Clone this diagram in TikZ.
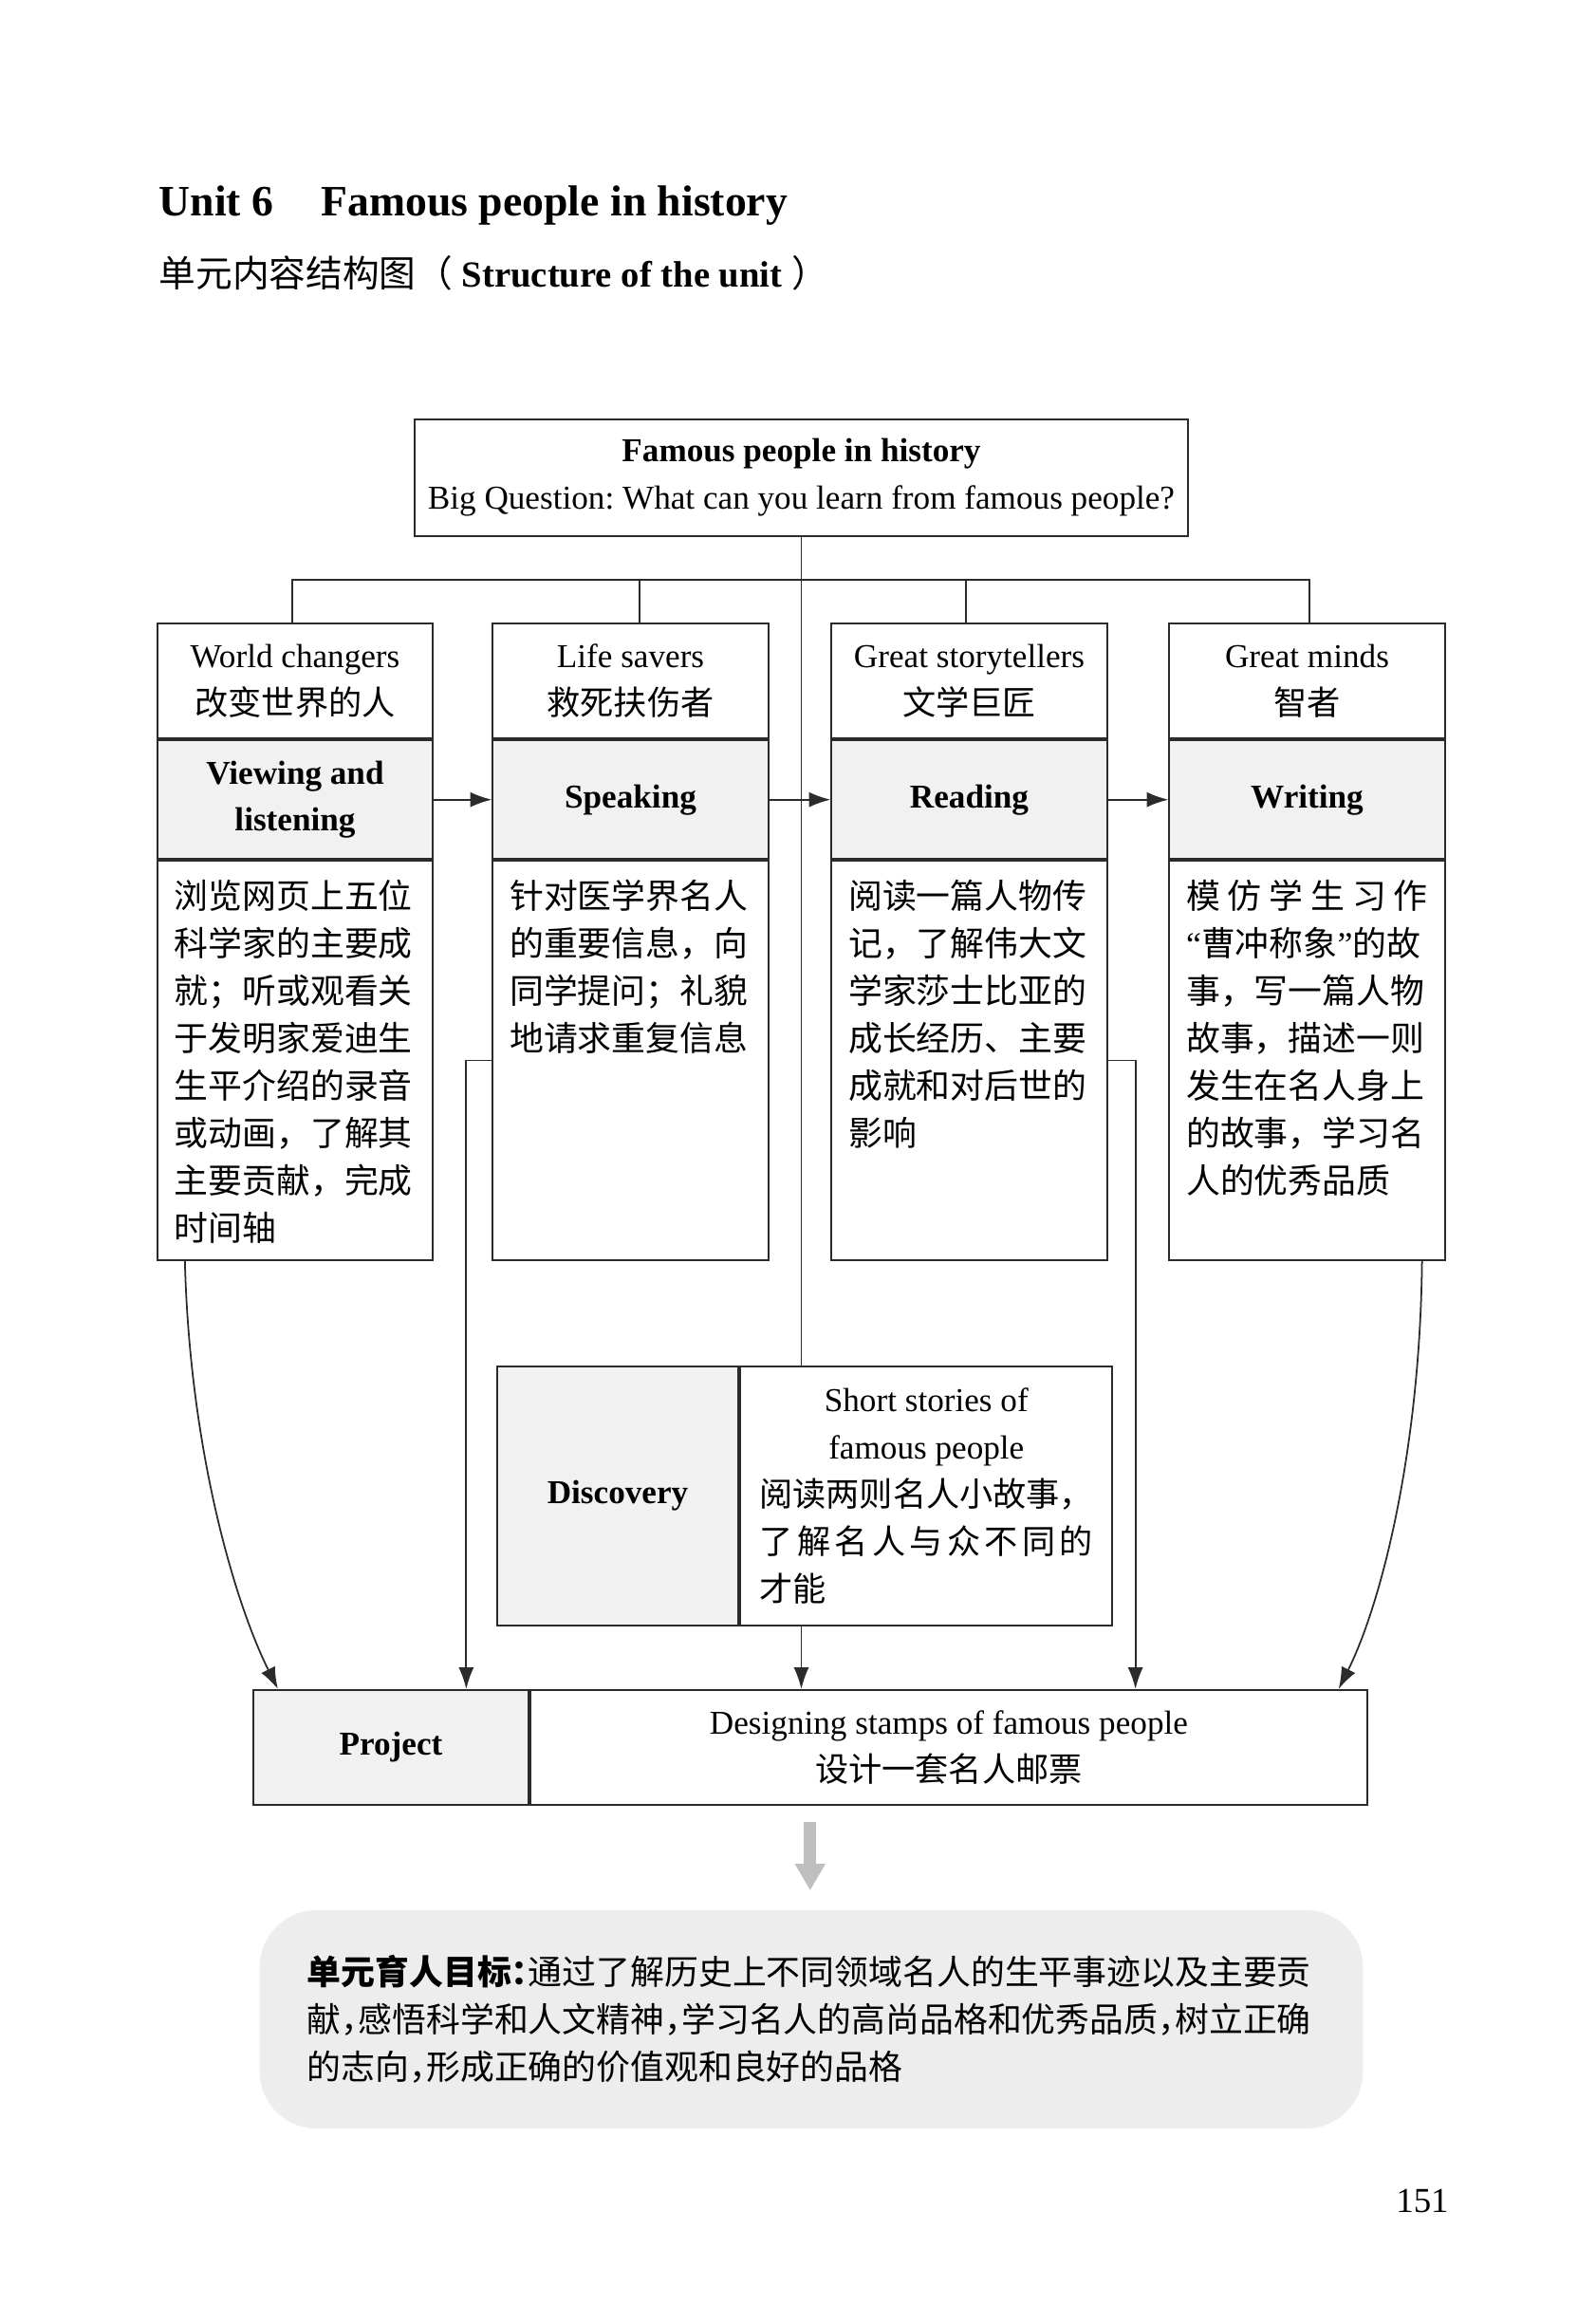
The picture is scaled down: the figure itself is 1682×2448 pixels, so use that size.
\documentclass[tikz,border=0pt]{standalone}
\usepackage{fontspec}
\setmainfont{Liberation Serif}
\newfontfamily\cjk{Noto Sans CJK SC}
\newfontfamily\cjkhalf[RawFeature=+halt]{Noto Sans CJK SC}
\usetikzlibrary{arrows.meta,positioning,calc}
\definecolor{CellGray}{HTML}{F1F1F1}
\definecolor{GoalGray}{HTML}{EDEDED}
\definecolor{InkGray}{HTML}{2B2B2B}
\frenchspacing
\newcommand{\zh}[1]{{\cjk #1}}
\newcommand{\enquote}[1]{{\rmfamily “}#1{\rmfamily ”}}
\newcommand{\colbody}[1]{\parbox[c][3.8cm][t]{7.1em}{\cjk #1}}
\tikzset{
  >={Latex[length=6.5pt,width=4.6pt]},
  cell/.style={rectangle, draw=InkGray, line width=0.6pt,
    minimum width=2.9cm, inner sep=0pt, align=center,
    font=\fontsize{10}{14.2}\selectfont},
  head/.style={cell, minimum height=1.21cm},
  skill/.style={cell, fill=CellGray, minimum height=1.25cm,
    font=\fontsize{10}{14.2}\selectfont\bfseries},
  body/.style={cell, minimum height=4.2cm,
    font=\fontsize{10.2}{14.2}\selectfont},
  link/.style={draw=InkGray, line width=0.5pt},
  flow/.style={link, ->},
  bigflow/.style={draw=black!25, line width=0.13cm,
    -{Triangle[length=0.28cm,width=0.3cm]}}
}

\begin{document}
\begin{tikzpicture}[x=0.01cm, y=-0.01cm, node distance=0pt]

\path[fill=white, use as bounding box] (0,0) rectangle (1682,2448);

\node[anchor=base west, inner sep=0pt, font=\fontsize{13}{15}\selectfont\bfseries]
  (title) at (167,227) {Unit 6\hspace{1.1em}Famous people in history};
\node[anchor=base west, inner sep=0pt, font=\fontsize{11}{13}\selectfont]
  (subtitle) at (167,302) {\zh{单元内容结构图（}\textbf{ Structure of the unit }\zh{）}};

\node[cell, minimum width=8.15cm, minimum height=1.23cm] (theme) at (844.5,503.5) {
\textbf{Famous people in history}\\
Big Question: What can you learn from famous people?
};

% four strands
\node[head] (wcHead) at (311,717.5) {World changers\\\zh{改变世界的人}};
\node[skill, below=of wcHead] (wcSkill) {Viewing and\\listening};
\node[body, below=of wcSkill] (wcBody) {\colbody{
浏览网页上五位\\科学家的主要成\\就；听或观看关\\于发明家爱迪生\\生平介绍的录音\\或动画，了解其\\主要贡献，完成\\时间轴}};

\node[head] (lsHead) at (664.5,717.5) {Life savers\\\zh{救死扶伤者}};
\node[skill, below=of lsHead] (lsSkill) {Speaking};
\node[body, below=of lsSkill] (lsBody) {\colbody{
针对医学界名人\\的重要信息，向\\同学提问；礼貌\\地请求重复信息}};

\node[head] (gsHead) at (1021.5,717.5) {Great storytellers\\\zh{文学巨匠}};
\node[skill, below=of gsHead] (gsSkill) {Reading};
\node[body, below=of gsSkill] (gsBody) {\colbody{
阅读一篇人物传\\记，了解伟大文\\学家莎士比亚的\\成长经历、主要\\成就和对后世的\\影响}};

\node[head] (gmHead) at (1377.5,717.5) {Great minds\\\zh{智者}};
\node[skill, below=of gmHead] (gmSkill) {Writing};
\node[body, below=of gmSkill] (gmBody) {\colbody{
模\hfill 仿\hfill 学\hfill 生\hfill 习\hfill 作\\\enquote{曹冲称象}的故\\事，写一篇人物\\故事，描述一则\\发生在名人身上\\的故事，学习名\\人的优秀品质}};

\node[cell, fill=CellGray, minimum width=2.54cm, minimum height=2.73cm,
  font=\fontsize{10}{14.2}\selectfont\bfseries] (discLabel) at (651,1576.5) {Discovery};
\node[cell, right=of discLabel, minimum width=3.92cm, minimum height=2.73cm] (discText) {
Short stories of\\
famous people\\
\parbox[t]{10em}{\cjk 阅读两则名人小故事，\\
了\hfill 解\hfill 名\hfill 人\hfill 与\hfill 众\hfill 不\hfill 同\hfill 的\\
才能}
};

\node[cell, fill=CellGray, minimum width=2.9cm, minimum height=1.21cm,
  font=\fontsize{10}{14.2}\selectfont\bfseries] (prjLabel) at (412,1841.5) {Project};
\node[cell, right=of prjLabel, minimum width=8.81cm, minimum height=1.21cm] (prjText) {
Designing stamps of famous people\\\zh{设计一套名人邮票}
};

\node[rounded corners=0.6cm, fill=GoalGray, minimum height=2.3cm,
  text width=10.62cm, inner xsep=0.5cm, align=left,
  font=\fontsize{10.2}{14.2}\selectfont\cjkhalf] (goal) at (855,2128) {
{\bfseries 单元育人目标：}通过了解历史上不同领域名人的生平事迹以及主要贡\\
献，感悟科学和人文精神，学习名人的高尚品格和优秀品质，树立正确\\
的志向，形成正确的价值观和良好的品格
};

\node[font=\fontsize{10.5}{12}\selectfont] (page) at (1499,2319) {151};

\coordinate (bus) at (844.5,611);
\coordinate (prjMid) at ($(prjLabel.south west)!0.5!(prjText.south east)$);

\draw[link] (theme.south)  -- (theme.south |- discText.north);
\draw[link] ($(wcHead.north)+(-3,0)$) |- (bus) -| ($(gmHead.north)+(2.5,0)$);
\draw[link] ($(lsHead.north)+(9.5,0)$) -- ($(lsHead.north |- bus)+(9.5,0)$);
\draw[link] ($(gsHead.north)+(-3.5,0)$) -- ($(gsHead.north |- bus)+(-3.5,0)$);
\draw[flow] (wcSkill) -- (lsSkill);
\draw[flow] (lsSkill) -- (gsSkill);
\draw[flow] (gsSkill) -- (gmSkill);
\draw[flow] ($(wcBody.south west)+(30,0)$) .. controls +(5,200) and +(-45,-90) .. ($(prjLabel.north west)+(27,0)$);
\draw[flow] (lsBody.west) -- ++(-27,0) coordinate (lsTurn) -- (lsTurn |- prjLabel.north);
\draw[flow] (discText.south -| theme.south) -- (theme.south |- prjText.north);
\draw[flow] (gsBody.east) -- ++(29,0) coordinate (gsTurn) -- (gsTurn |- prjText.north);
\draw[flow] ($(gmBody.south east)+(-25,0)$) .. controls +(-2,200) and +(45,-90) .. ($(prjText.north east)+(-31,0)$);
\draw[bigflow] ($(prjMid)+(0,17)$) -- ($(prjMid |- goal.north)+(0,-20)$);

\end{tikzpicture}
\end{document}
